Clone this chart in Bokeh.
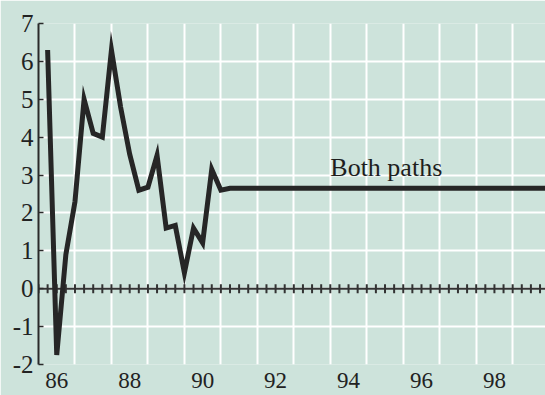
import numpy as np
from bokeh.plotting import figure
from bokeh.models import Range1d, FixedTicker, ColumnDataSource
from bokeh.core.properties import value
from bokeh.embed import file_html
from bokeh.resources import INLINE

# ---- data (quarterly, first point = 1986 Q1, plotted at quarter end) ----
start_year = 1986.25
growth = [6.3, -1.75, 0.9, 2.3, 5.0, 4.1, 4.0, 6.3, 4.8, 3.55, 2.6, 2.68,
          3.52, 1.6, 1.67, 0.42, 1.6, 1.21, 3.15, 2.6,
          2.65, 2.65, 2.65, 2.65, 2.65, 2.65, 2.65, 2.65, 2.65, 2.65, 2.65, 2.65,
          2.65, 2.65, 2.65, 2.65, 2.65, 2.65, 2.65, 2.65, 2.65, 2.65, 2.65, 2.65,
          2.65, 2.65, 2.65, 2.65, 2.65, 2.65, 2.65, 2.65, 2.65, 2.65, 2.65, 2.65]
x_tick_years = [1986, 1988, 1990, 1992, 1994, 1996, 1998]
x_tick_labels = ["86", "88", "90", "92", "94", "96", "98"]
y_ticks = [-2, -1, 0, 1, 2, 3, 4, 5, 6, 7]
y_tick_labels = ["-2", "-1", "0", "1", "2", "3", "4", "5", "6", "7"]
annotation_text = "Both paths"
annotation_pos = (1994.0, 3.2)

quarters = start_year + 0.25 * np.arange(len(growth))

BG = "#cde3db"
INK = "#262626"
FONT = "Liberation Serif"

p = figure(width=545, height=395, output_backend="svg", toolbar_location=None,
           x_range=Range1d(1986, 1999.9), y_range=Range1d(-2, 7),
           min_border_left=38, min_border_right=0, min_border_top=23,
           min_border_bottom=31)
p.background_fill_color = BG
p.border_fill_color = BG
p.outline_line_color = None

# grid
p.xgrid.ticker = FixedTicker(ticks=list(range(1987, 2001)))
p.ygrid.ticker = FixedTicker(ticks=y_ticks)
for g in (p.xgrid, p.ygrid):
    g.grid_line_color = "white"
    g.grid_line_width = 2

# x axis: labels centred in each year
xa = p.xaxis[0]
xa.ticker = FixedTicker(ticks=[y + 0.5 for y in x_tick_years])
xa.major_label_overrides = {y + 0.5: lab for y, lab in zip(x_tick_years, x_tick_labels)}
xa.axis_line_color = None
xa.major_tick_line_color = None
xa.minor_tick_line_color = None
xa.major_label_standoff = 2
xa.major_label_text_font = FONT
xa.major_label_text_font_size = "23px"
xa.major_label_text_color = "#222222"

# y axis
ya = p.yaxis[0]
ya.ticker = FixedTicker(ticks=y_ticks)
ya.major_label_overrides = {t: lab for t, lab in zip(y_ticks, y_tick_labels)}
ya.axis_line_color = "#2a2a2a"
ya.axis_line_width = 2
ya.major_tick_in = 5
ya.major_tick_out = 0
ya.major_tick_line_color = "#2a2a2a"
ya.major_tick_line_width = 1.5
ya.minor_tick_line_color = None
ya.major_label_standoff = 5
ya.major_label_text_font = FONT
ya.major_label_text_font_size = "25px"
ya.major_label_text_color = "#222222"

# zero line with quarterly tick marks
zq = 1986 + 0.25 * np.arange(0, 57)
p.line(x=[1986, 2000], y=[0, 0], line_color="#333333", line_width=2)
p.scatter(x=zq, y=np.zeros_like(zq), marker="dash", angle=np.pi / 2, size=9,
          line_color="#333333", line_width=2)

# growth path
src = ColumnDataSource(dict(x=quarters, y=growth))
p.line("x", "y", source=src, line_color=INK, line_width=5, line_join="miter")

p.text(x=[annotation_pos[0]], y=[annotation_pos[1]], text=[annotation_text],
       text_font=value(FONT), text_font_size="26px", text_color="#1e1e1e",
       text_baseline="alphabetic", text_align="left")

open("out.html", "w").write(file_html(p, INLINE))
